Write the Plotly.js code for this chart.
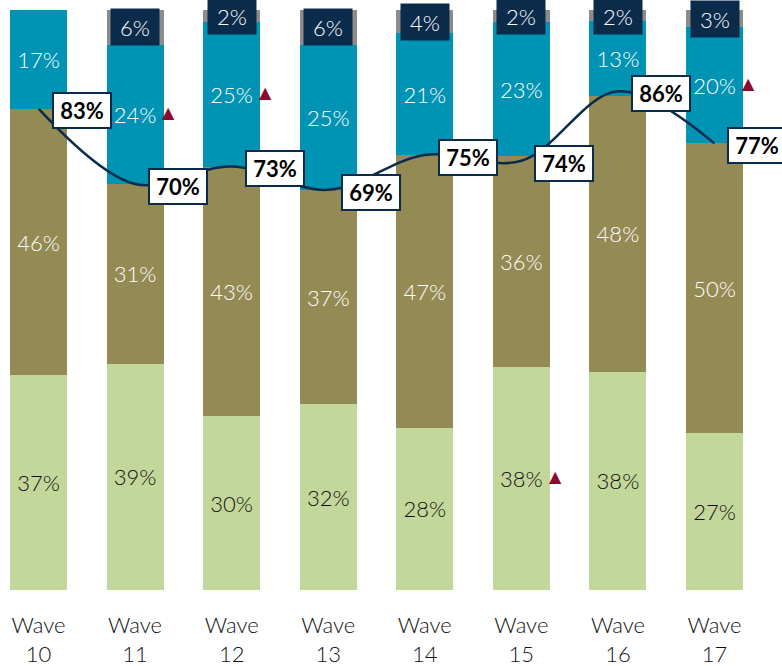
<!DOCTYPE html>
<html><head><meta charset="utf-8">
<script src="https://cdn.plot.ly/plotly-3.0.1.min.js"></script>
<style>html,body{margin:0;padding:0;background:#fff}#c{width:782px;height:666px}</style>
</head><body><div id="c"></div>
<script>
const waves = ["Wave<br>10","Wave<br>11","Wave<br>12","Wave<br>13","Wave<br>14","Wave<br>15","Wave<br>16","Wave<br>17"];
const bottomVals = [37,39,30,32,28,38,38,27];
const middleVals = [46,31,43,37,47,36,48,50];
const upperVals  = [17,24,25,25,21,23,13,20];
const topVals    = [0,6,2,6,4,2,2,3];
const netVals    = [83,70,73,69,75,74,86,77];
// significance markers: which segment of each wave carries a ▲ (null = none)
const sigMarks   = [null,"upper","upper",null,null,"bottom",null,"upper"];

const C = {green:"#C4D79B", olive:"#948A54", teal:"#0093B3", grey:"#8C8C8C", navy:"#0B2B4B", red:"#8B0A2E"};
const FONT = "Lato, 'Open Sans', sans-serif";
const xs = waves.map((_, i) => i);
const pct = a => a.map(v => v + "%");

function barTrace(vals, color, txtColor, showText) {
  return {
    type: "bar", x: xs, y: vals, width: 0.59,
    marker: {color: color, line: {width: 0}},
    text: showText ? pct(vals) : undefined,
    textposition: showText ? "inside" : "none",
    insidetextanchor: "middle",
    textangle: 0,
    insidetextfont: {family: FONT, size: 22, color: txtColor, weight: 300},
    hoverinfo: "skip", cliponaxis: false
  };
}

const data = [
  barTrace(bottomVals, C.green, "#111111", true),
  barTrace(middleVals, C.olive, "#FFFFFF", true),
  barTrace(upperVals, C.teal, "#FFFFFF", true),
  barTrace(topVals, C.grey, "#FFFFFF", false),
  {type: "scatter", mode: "lines", x: xs, y: netVals,
   line: {color: C.navy, width: 2.5, shape: "spline", smoothing: 1},
   hoverinfo: "skip", cliponaxis: false}
];

const annotations = [];
xs.forEach(i => {
  const tot = bottomVals[i] + middleVals[i] + upperVals[i] + topVals[i];
  const sc = 100 / tot;
  annotations.push({x: i + 0.445, y: netVals[i] - 0.4, xref: "x", yref: "y",
    text: "<b>" + netVals[i] + "%</b>", showarrow: false,
    font: {family: FONT, size: 22, color: "#000"},
    bgcolor: "#FFFFFF", bordercolor: C.navy, borderwidth: 2, borderpad: 2,
    width: 52, height: 29});
  if (topVals[i] > 0) {
    annotations.push({x: i, y: 100 - topVals[i] * sc / 2, xref: "x", yref: "y",
      text: topVals[i] + "%", showarrow: false,
      font: {family: FONT, size: 22, color: "#FFFFFF", weight: 300},
      bgcolor: C.navy, width: 46, height: 34});
  }
  if (sigMarks[i]) {
    let yc;
    if (sigMarks[i] === "bottom") yc = bottomVals[i] * sc / 2;
    else if (sigMarks[i] === "middle") yc = (bottomVals[i] + middleVals[i] / 2) * sc;
    else yc = (bottomVals[i] + middleVals[i] + upperVals[i] / 2) * sc;
    annotations.push({x: i + 0.35, y: yc + 0.3, xref: "x", yref: "y",
      text: "▲", showarrow: false, font: {family: "DejaVu Sans", size: 16, color: C.red}});
  }
});

const layout = {
  width: 782, height: 666,
  margin: {l: 0, r: 0, t: 10, b: 76},
  barmode: "stack", barnorm: "percent",
  showlegend: false,
  paper_bgcolor: "#FFFFFF", plot_bgcolor: "#FFFFFF",
  xaxis: {range: [-0.399, 7.699], tickvals: xs, ticktext: waves,
    showgrid: false, zeroline: false, showline: false, ticks: "",
    ticklabelstandoff: 20,
    tickfont: {family: FONT, size: 22, color: "#111111", weight: 300}, fixedrange: true},
  yaxis: {range: [0, 100], visible: false, showgrid: false, zeroline: false, fixedrange: true},
  annotations: annotations,
  font: {family: FONT}
};

Plotly.newPlot("c", data, layout, {displayModeBar: false, staticPlot: true});
</script>
</body></html>
